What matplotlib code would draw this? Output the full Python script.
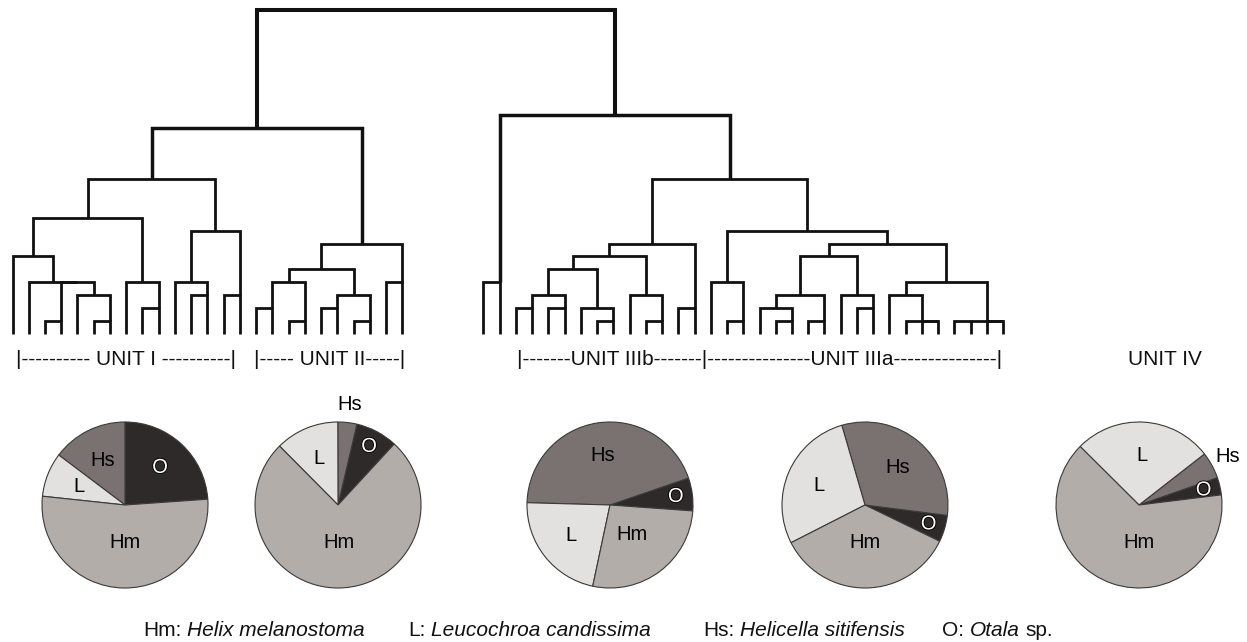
import matplotlib
matplotlib.use('Agg')
import matplotlib.pyplot as plt
import matplotlib.patheffects as pe
from matplotlib.transforms import blended_transform_factory
from matplotlib.offsetbox import TextArea, HPacker, AnchoredOffsetbox
import numpy as np

plt.rcParams['font.family'] = ['Liberation Sans', 'DejaVu Sans']

# cluster tree: node -> (child, child, linkage distance); ints are leaf slots
# (slots 0-24 = units I/II, 29-61 = units IIIb/IIIa)
merges = {
    'a1': (2, 3, 1), 'a2': (5, 6, 1), 'a3': (4, 'a2', 3), 'a4': ('a1', 'a3', 4),
    'a5': (1, 'a4', 4), 'a6': (0, 'a5', 6), 'b1': (8, 9, 2), 'b2': (7, 'b1', 4),
    'a7': ('a6', 'b2', 9), 'c1': (11, 12, 3), 'c2': (10, 'c1', 4), 'd1': (13, 14, 3),
    'c3': ('c2', 'd1', 8), 'e1': ('a7', 'c3', 12),
    'f1': (15, 16, 2), 'f2': (17, 18, 1), 'f3': ('f1', 'f2', 4),
    'g1': (19, 20, 2), 'g2': (21, 22, 1), 'g3': ('g1', 'g2', 3),
    'h1': ('f3', 'g3', 5), 'i1': (23, 24, 4), 'h2': ('h1', 'i1', 7),
    'k': ('e1', 'h2', 16),
    'r1': (29, 30, 4),
    's1': (31, 32, 2), 's2': (33, 34, 2), 's3': ('s1', 's2', 3),
    's4': (36, 37, 1), 's5': (35, 's4', 2), 's6': ('s3', 's5', 5),
    's7a': (39, 40, 1), 's7': (38, 's7a', 3), 's8': ('s6', 's7', 6),
    's10': (41, 42, 2), 's9': ('s8', 's10', 7),
    'v1': (44, 45, 1), 'v2': (43, 'v1', 4),
    'x0': (47, 48, 1), 'x1': (46, 'x0', 2), 'y1': (49, 50, 1), 'x2': ('x1', 'y1', 3),
    'z0': (52, 53, 2), 'z1': (51, 'z0', 3), 'w1': ('x2', 'z1', 6),
    'w3b': (56, 57, 1), 'w3a': (55, 'w3b', 1), 'w3': (54, 'w3a', 3),
    'w4a': (58, 59, 1), 'w4b': (60, 61, 1), 'w4': ('w4a', 'w4b', 1),
    'w2': ('w3', 'w4', 4), 'w': ('w1', 'w2', 7), 'u': ('v2', 'w', 8),
    't': ('s9', 'u', 12), 'rr': ('r1', 't', 17),
    'root': ('k', 'rr', 25.2),
}

# species composition per unit (%), wedge order counter-clockwise
species = ['O', 'Hs', 'L', 'Hm']
unit_I = [23.9, 14.7, 8.6, 52.8]
unit_II = [8.2, 3.7, 12.4, 75.7]
unit_IIIb = [6.4, 44.3, 22.1, 27.2]
unit_IIIa = [5.2, 31.5, 28.0, 35.3]
unit_IV = [3.4, 5.2, 27.0, 64.4]
shares = [unit_I, unit_II, unit_IIIb, unit_IIIa, unit_IV]

legend_abbr = ['Hm:', 'L:', 'Hs:', 'O:']
legend_name = ['Helix melanostoma', 'Leucochroa candissima', 'Helicella sitifensis', 'Otala']

colors = {'O': '#2f2a2a', 'Hs': '#7a7271', 'L': '#e3e1df', 'Hm': '#b3adaa'}

W, H = 1247, 642
fig = plt.figure(figsize=(W / 100, H / 100), dpi=100)

# dendrogram axes (leaf spacing 16.24 px, 12.85 px per distance unit)
ax = fig.add_axes([0, 1 - 345 / H, 1, 345 / H])
ax.set_xlim(-12.5 / 16.24, (W - 12.5) / 16.24)
ax.set_ylim((333.5 - 345) / 12.85, 333.5 / 12.85)
ax.axis('off')


def draw(node):
    if isinstance(node, int):
        return node, 0.0
    a, b, h = merges[node]
    xa, ha = draw(a)
    xb, hb = draw(b)
    lw = 2.9 if h > 20 else (2.5 if h > 15 else 2.0)
    ax.plot([xa, xa, xb, xb], [ha, h, h, hb], color='#111111', lw=lw,
            solid_joinstyle='miter', solid_capstyle='butt')
    if isinstance(a, int) and isinstance(b, int):
        return xb, h
    return (xa + xb) / 2, h


draw('root')

# unit labels under the leaves
tr = blended_transform_factory(ax.transData, fig.transFigure)
label_y = 1 - 360 / H
unit_spans = [(0, 14), (15, 24), (31, 61)]
unit_text = ['|' + '-' * 10 + ' UNIT I ' + '-' * 10 + '|',
             '|' + '-' * 5 + ' UNIT II' + '-' * 5 + '|',
             '|' + '-' * 7 + 'UNIT IIIb' + '-' * 7 + '|' + '-' * 15 + 'UNIT IIIa' + '-' * 15 + '|']
for (lo, hi), s in zip(unit_spans, unit_text):
    ax.text((lo + hi) / 2, label_y, s, transform=tr, ha='center', va='center',
            fontsize=15, color='#111111')
fig.text(1165 / W, label_y, 'UNIT IV', ha='center', va='center', fontsize=15, color='#111111')

# pies
pie_cx = [125, 338, 610, 865, 1139]
pie_cy = 505
R = 83
start = [4, 47.3, -4.1, -25.9, 7]
for cx, vals, st in zip(pie_cx, shares, start):
    pax = fig.add_axes([(cx - 1.4 * R) / W, 1 - (pie_cy + 1.4 * R) / H, 2.8 * R / W, 2.8 * R / H])
    pax.pie(vals, colors=[colors[s] for s in species], startangle=st, counterclock=True,
            wedgeprops=dict(edgecolor='#3a3a3a', linewidth=0.8))
    pax.set_xlim(-1.4, 1.4)
    pax.set_ylim(-1.4, 1.4)
    pax.set_aspect('equal')
    cum = st
    for sp, v in zip(species, vals):
        mid = cum + v * 1.8
        cum += v * 3.6
        color = 'black'
        effects = None
        if sp == 'O':
            r = 0.62 if v > 15 else 0.8
            color = 'white'
            effects = [pe.withStroke(linewidth=1.3, foreground='black')]
        elif sp == 'Hm':
            r = 0.45
            mid = max(mid, 270)
        elif sp == 'Hs' and v < 6:
            r = 1.22
        else:
            r = 0.6
        a = np.deg2rad(mid)
        pax.text(r * np.cos(a), r * np.sin(a), sp, ha='center', va='center',
                 fontsize=14.5, color=color, path_effects=effects)

# species key along the bottom
key_x = [143, 408, 703, 942]
key_y = 1 - 630 / H
for x, abbr, name in zip(key_x, legend_abbr, legend_name):
    parts = [TextArea(abbr, textprops=dict(fontsize=15, color='#111111')),
             TextArea(name, textprops=dict(fontsize=15, fontstyle='italic', color='#111111'))]
    if abbr == 'O:':
        parts.append(TextArea('sp.', textprops=dict(fontsize=15, color='#111111')))
    item = HPacker(children=parts, sep=4, pad=0, align='baseline')
    anchored = AnchoredOffsetbox(loc='center left', child=item, pad=0, borderpad=0, frameon=False,
                                 bbox_to_anchor=(x / W, key_y), bbox_transform=fig.transFigure)
    fig.add_artist(anchored)

fig.savefig('out.png', dpi=100, facecolor='white')
